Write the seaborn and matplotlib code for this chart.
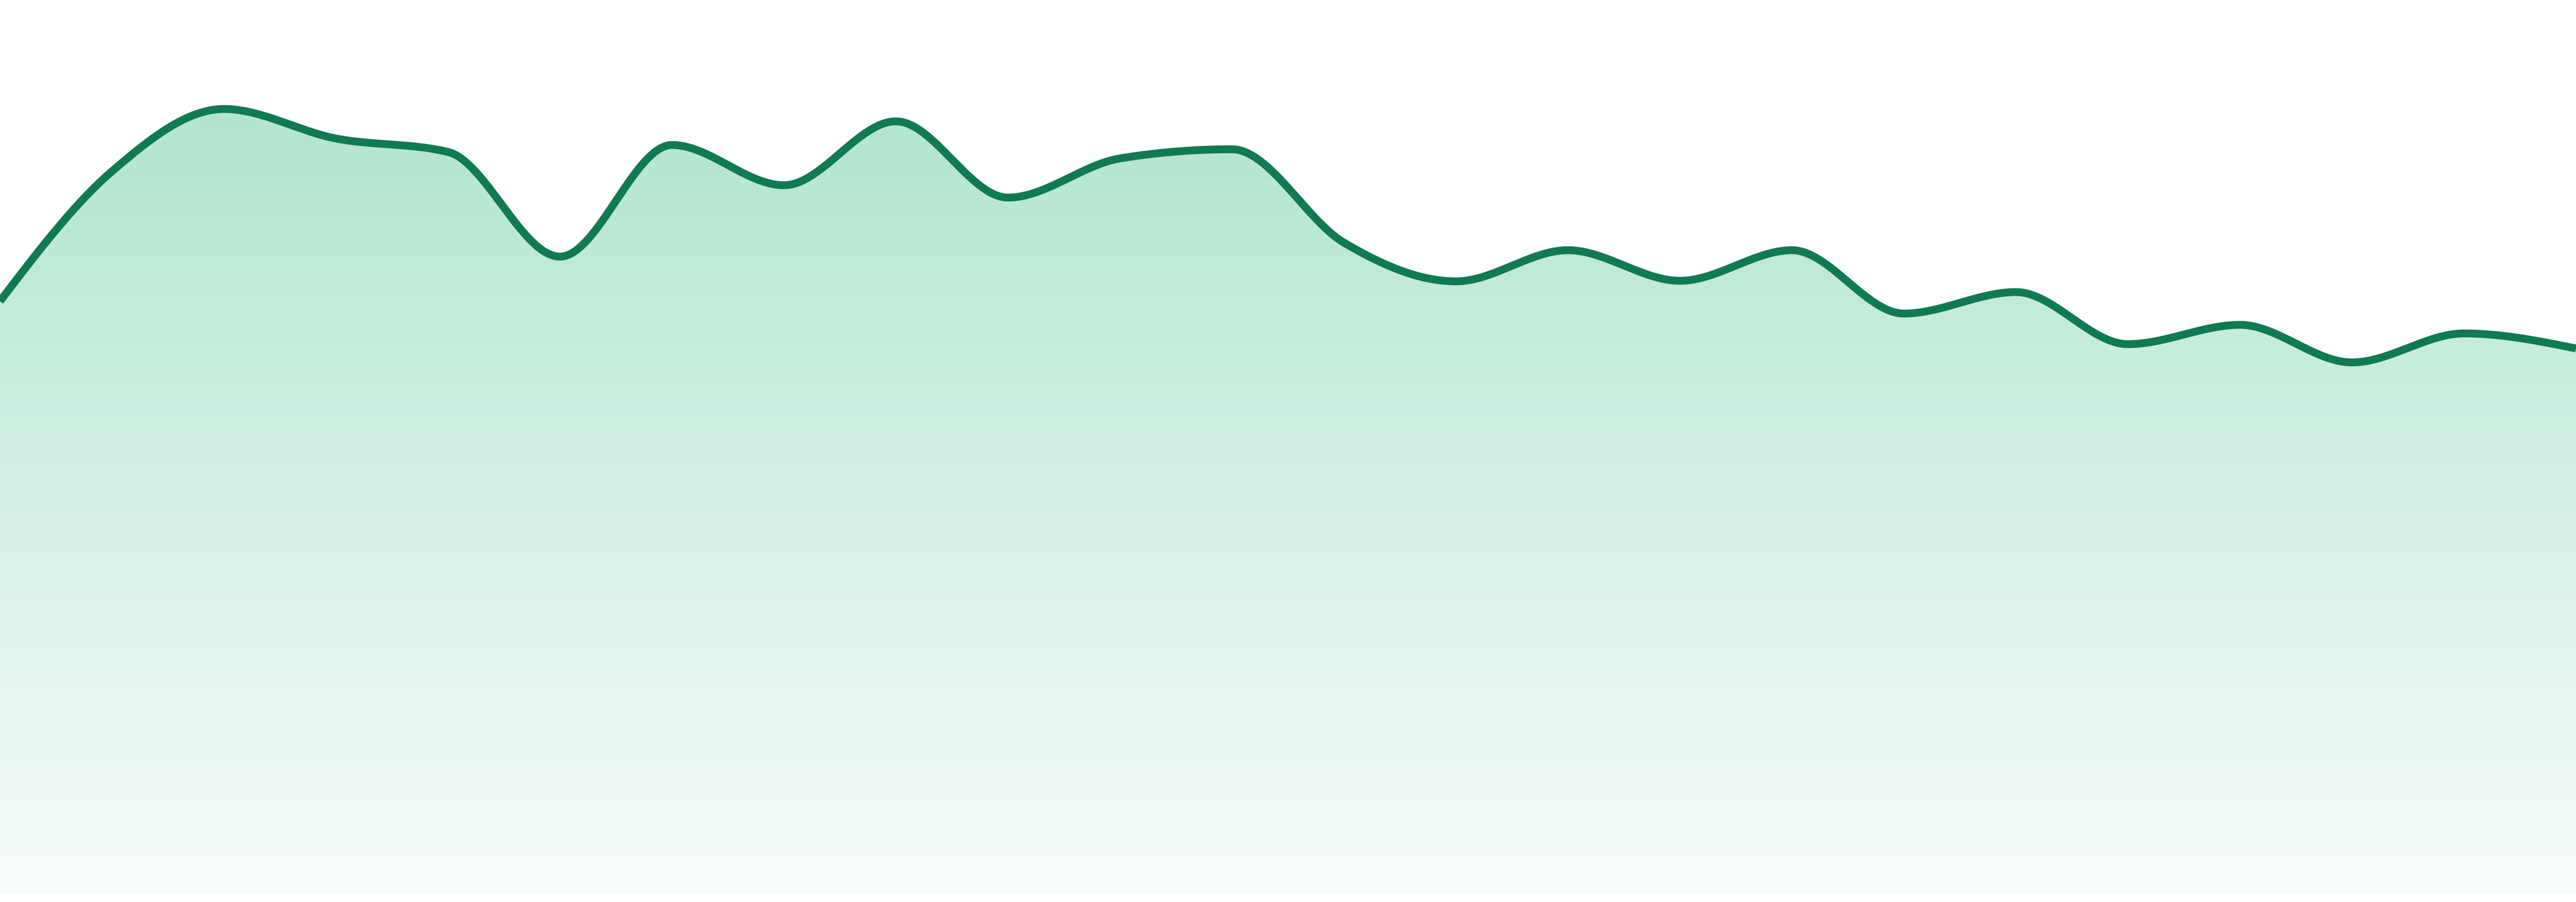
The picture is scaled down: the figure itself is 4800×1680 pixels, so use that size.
import numpy as np
import pandas as pd
import matplotlib
matplotlib.use("Agg")
import matplotlib.pyplot as plt
import seaborn as sns
from matplotlib.colors import LinearSegmentedColormap

# ---- data ----
idx = list(range(24))
values = [110.5, 134.7, 146.3, 140.8, 138.3, 118.8, 139.6, 132.1, 144.0, 129.8,
          137.1, 138.8, 121.4, 114.2, 120.0, 114.3, 120.0, 108.2, 112.2, 102.5,
          106.1, 99.1, 104.5, 101.7]

LINE_COLOR = "#117a52"
TOP_COLOR = "#b2e5d0"
BOTTOM_COLOR = "#f8fcfa"


def monotone_x(x, y, n=60):
    x = np.asarray(x, float)
    y = np.asarray(y, float)
    h = np.diff(x)
    s = np.diff(y) / h
    m = len(x)
    t = np.zeros(m)
    for i in range(1, m - 1):
        s0, s1 = s[i - 1], s[i]
        h0, h1 = h[i - 1], h[i]
        p = (s0 * h1 + s1 * h0) / (h0 + h1)
        t[i] = (np.sign(s0) + np.sign(s1)) * min(abs(s0), abs(s1), 0.5 * abs(p))
    t[0] = (3 * s[0] - t[1]) / 2
    t[-1] = (3 * s[-1] - t[-2]) / 2
    xs, ys = [], []
    for i in range(m - 1):
        x0, x1, y0, y1 = x[i], x[i + 1], y[i], y[i + 1]
        dx = (x1 - x0) / 3
        P0 = np.array([x0, y0])
        P1 = np.array([x0 + dx, y0 + dx * t[i]])
        P2 = np.array([x1 - dx, y1 - dx * t[i + 1]])
        P3 = np.array([x1, y1])
        u = np.linspace(0, 1, n, endpoint=(i == m - 2))[:, None]
        B = ((1 - u) ** 3) * P0 + 3 * ((1 - u) ** 2) * u * P1 + 3 * (1 - u) * u ** 2 * P2 + u ** 3 * P3
        xs.append(B[:, 0])
        ys.append(B[:, 1])
    return np.concatenate(xs), np.concatenate(ys)


sns.set_theme(style="white")
fig = plt.figure(figsize=(16, 5.6), dpi=300)
ax = fig.add_axes([0, 0, 1, 1])

sx, sy = monotone_x(idx, values)
df = pd.DataFrame({"x": sx, "y": sy})

ax.set_xlim(0, 23)
ax.set_ylim(-1.4, 166.6)

# gradient fill clipped to the area
poly = ax.fill_between(sx, 0, sy, color="none", lw=0)
ymax = max(values)
cmap = LinearSegmentedColormap.from_list("g", [BOTTOM_COLOR, TOP_COLOR])
grad = np.linspace(0, 1, 512)[:, None]
im = ax.imshow(grad, cmap=cmap, aspect="auto", origin="lower",
               extent=[0, 23, 0, ymax], interpolation="bilinear", zorder=1)
path = poly.get_paths()[0]
im.set_clip_path(path, transform=ax.transData)

sns.lineplot(data=df, x="x", y="y", ax=ax, color=LINE_COLOR, linewidth=3.5,
             sort=False, estimator=None, zorder=3)
ax.lines[-1].set_solid_capstyle("butt")

ax.set_xlim(0, 23)
ax.set_ylim(-1.4, 166.6)
ax.axis("off")
fig.savefig("out.png", dpi=300, facecolor="white")
